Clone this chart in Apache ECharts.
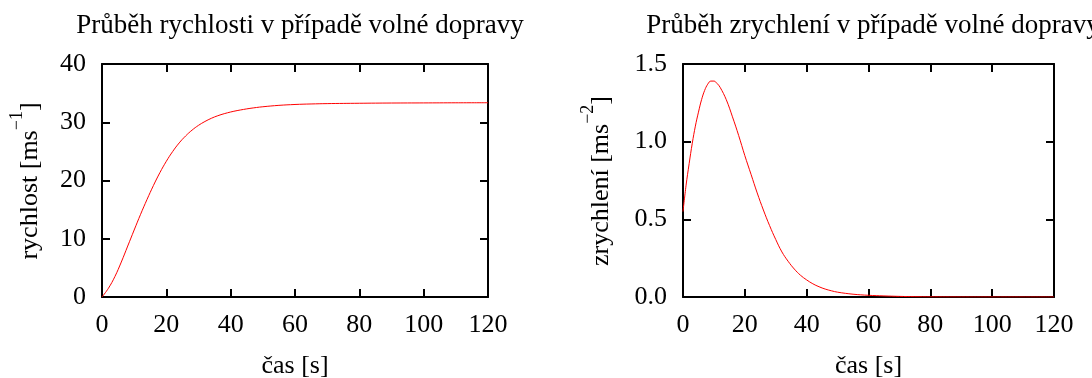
<!DOCTYPE html>
<html>
<head>
<meta charset="utf-8">
<script src="https://cdn.jsdelivr.net/npm/echarts@6/dist/echarts.min.js"></script>
<style>
  html, body { margin: 0; padding: 0; background: #fff; }
  #chart { width: 1092px; height: 378px; }
</style>
</head>
<body>
<div id="chart"></div>
<script>
// ---- data ----
const titleLeft = 'Průběh rychlosti v případě volné dopravy';
const titleRight = 'Průběh zrychlení v případě volné dopravy';
const xName = 'čas [s]';
const yNameLeft = ['rychlost [ms', '−1', ']'];
const yNameRight = ['zrychlení [ms', '−2', ']'];

const velTime = [0, 2, 4, 6, 8, 10, 12, 14, 16, 18, 20, 22, 24, 26, 28, 30, 32, 34, 36, 38, 40, 42, 44, 46, 48, 50, 55, 60, 65, 70, 80, 90, 100, 110, 120];
const velocity = [0, 1.5, 3.5, 6.0, 8.75, 11.5, 14.2, 16.75, 19.15, 21.35, 23.3, 25.0, 26.45, 27.65, 28.65, 29.47, 30.13, 30.68, 31.12, 31.47, 31.76, 32.0, 32.2, 32.38, 32.53, 32.66, 32.9, 33.05, 33.14, 33.2, 33.26, 33.3, 33.32, 33.34, 33.35];

const accTime = [0, 1, 2, 3, 4, 5, 6, 7, 8, 9, 10, 11, 12, 14, 16, 18, 20, 22, 24, 26, 28, 30, 32, 34, 36, 38, 40, 42, 44, 46, 48, 50, 55, 60, 65, 70, 75, 80, 90, 100, 110, 120];
const acceleration = [0.55, 0.72, 0.86, 0.99, 1.10, 1.19, 1.27, 1.33, 1.37, 1.39, 1.39, 1.375, 1.35, 1.27, 1.16, 1.04, 0.91, 0.79, 0.67, 0.56, 0.46, 0.37, 0.29, 0.23, 0.18, 0.14, 0.11, 0.085, 0.066, 0.051, 0.040, 0.031, 0.018, 0.011, 0.007, 0.004, 0.002, 0.001, 0.0003, 0.0001, 0, 0];

const xTickInterval = 20;
const velTickInterval = 10;
const accTickInterval = 0.5;

// ---- chart ----
const FONT = '"Liberation Serif", "DejaVu Serif", serif';
const FS = 26;
const SUP_FS = 18;
const chart = echarts.init(document.getElementById('chart'), null, { renderer: 'canvas' });

function pairs(xs, ys) { return xs.map((x, i) => [x, ys[i]]); }

const measureCtx = document.createElement('canvas').getContext('2d');
function textWidth(str, size) {
  measureCtx.font = size + 'px ' + FONT;
  return measureCtx.measureText(str).width;
}

// rotated axis title with a superscript, drawn as real text
function yTitle(parts, cx, cy) {
  const w1 = textWidth(parts[0], FS), w2 = textWidth(parts[1], SUP_FS), w3 = textWidth(parts[2], FS);
  const W = w1 + w2 + w3;
  const base = { fill: '#000', fontFamily: FONT, verticalAlign: 'middle', align: 'left' };
  return {
    type: 'group', x: cx, y: cy, rotation: Math.PI / 2, silent: true,
    children: [
      { type: 'text', x: -W / 2, y: 0, style: Object.assign({}, base, { text: parts[0], fontSize: FS }) },
      { type: 'text', x: -W / 2 + w1, y: -13, style: Object.assign({}, base, { text: parts[1], fontSize: SUP_FS }) },
      { type: 'text', x: -W / 2 + w1 + w2, y: 0, style: Object.assign({}, base, { text: parts[2], fontSize: FS }) }
    ]
  };
}

function xAxes(gridIndex) {
  const common = {
    type: 'value', gridIndex, min: 0, max: 120, interval: xTickInterval,
    splitLine: { show: false },
    axisLine: { show: true, onZero: false, lineStyle: { color: '#000', width: 2 } },
    axisTick: { show: true, inside: true, length: 8, lineStyle: { color: '#000', width: 2 } }
  };
  return [
    Object.assign({}, common, {
      position: 'bottom',
      axisLabel: { show: true, margin: 15, color: '#000', fontFamily: FONT, fontSize: FS },
      name: xName, nameLocation: 'middle', nameGap: 56,
      nameTextStyle: { color: '#000', fontFamily: FONT, fontSize: FS }
    }),
    Object.assign({}, common, { position: 'top', axisLabel: { show: false } })
  ];
}

function yAxes(gridIndex, max, interval, dec) {
  const common = {
    type: 'value', gridIndex, min: 0, max, interval,
    splitLine: { show: false },
    axisLine: { show: true, onZero: false, lineStyle: { color: '#000', width: 2 } },
    axisTick: { show: true, inside: true, length: 8, lineStyle: { color: '#000', width: 2 } }
  };
  return [
    Object.assign({}, common, {
      position: 'left',
      axisLabel: { show: true, margin: 16, color: '#000', fontFamily: FONT, fontSize: FS,
                   formatter: v => v.toFixed(dec) }
    }),
    Object.assign({}, common, { position: 'right', axisLabel: { show: false } })
  ];
}

const option = {
  animation: false,
  backgroundColor: '#fff',
  title: [
    { text: titleLeft, left: 295, top: 7, textAlign: 'center',
      textStyle: { color: '#000', fontFamily: FONT, fontSize: 27, fontWeight: 'normal' } },
    { text: titleRight, left: 868, top: 7, textAlign: 'center',
      textStyle: { color: '#000', fontFamily: FONT, fontSize: 27, fontWeight: 'normal' } }
  ],
  grid: [
    { left: 102, top: 64, width: 386, height: 233, containLabel: false, outerBoundsMode: 'none' },
    { left: 683, top: 64, width: 371, height: 233, containLabel: false, outerBoundsMode: 'none' }
  ],
  xAxis: [].concat(xAxes(0), xAxes(1)),
  yAxis: [].concat(
    yAxes(0, 40, velTickInterval, 0),
    yAxes(1, 1.5, accTickInterval, 1)
  ),
  graphic: [
    yTitle(yNameLeft, 30, 181),
    yTitle(yNameRight, 601, 181)
  ],
  series: [
    { type: 'line', xAxisIndex: 0, yAxisIndex: 0, data: pairs(velTime, velocity),
      showSymbol: false, smooth: 0.4,
      lineStyle: { color: '#ff0000', width: 1 } },
    { type: 'line', xAxisIndex: 2, yAxisIndex: 2, data: pairs(accTime, acceleration),
      showSymbol: false, smooth: 0.4,
      lineStyle: { color: '#ff0000', width: 1 } }
  ]
};
chart.setOption(option);
</script>
</body>
</html>
